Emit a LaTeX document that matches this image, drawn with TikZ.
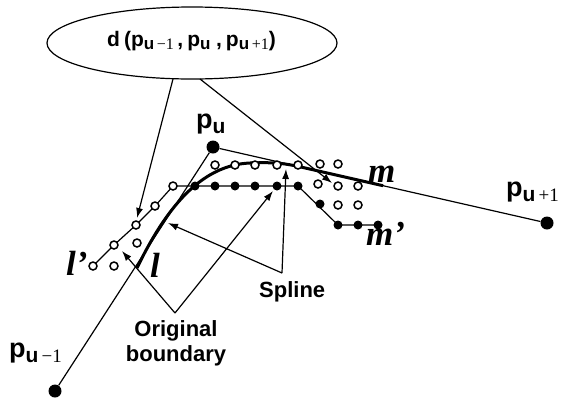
\documentclass[tikz,border=0pt]{standalone}
\usepackage{fontspec}
\setmainfont{Liberation Serif}
\newfontfamily\sansfam{Liberation Sans}
\usetikzlibrary{arrows.meta,shapes.geometric}
\newcommand\pbig[1]{p\raisebox{-5pt}{\fontsize{21}{21}\selectfont u{\rmfamily\mdseries\fontsize{19}{19}\selectfont\,#1}}}
\newcommand\psmall[1]{p\raisebox{-3pt}{\fontsize{17}{17}\selectfont u{\rmfamily\mdseries\fontsize{16}{16}\selectfont\,#1}}}
\begin{document}
\begin{tikzpicture}[x=1pt,y=-1pt,
  thinline/.style={line width=1.2pt},
  arr/.style={line width=1.2pt,-{Latex[length=10pt,width=7pt]}},
  fdot/.style={circle,fill=black,inner sep=0pt,minimum size=9pt},
  odot/.style={circle,draw=black,fill=white,line width=1.5pt,inner sep=0pt,minimum size=8pt},
  pdot/.style={circle,fill=black,inner sep=0pt,minimum size=13pt},
  plab/.style={inner sep=0pt,anchor=base west,font=\sansfam\bfseries\fontsize{27}{27}\selectfont},
  lab/.style={inner sep=0pt,font=\sansfam\bfseries\fontsize{22}{25}\selectfont},
  ital/.style={inner sep=0pt,anchor=base west,font=\bfseries\itshape\fontsize{35}{35}\selectfont},
]
\useasboundingbox (0,0) rectangle (565,400);

% ellipse with formula
\node[draw,ellipse,line width=1.2pt,minimum width=290pt,minimum height=72pt,inner sep=0pt] (dn) at (192,43) {};
\node[inner sep=0pt,anchor=base west,font=\sansfam\bfseries\fontsize{21}{21}\selectfont] (dt) at (107,46)
  {d\hspace{4pt}(\psmall{−1}\,,\hspace{4pt}\psmall{}\hspace{3pt},\hspace{4pt}\psmall{+1})};

% main points
\node[pdot] (pm) at (55,391) {};
\node[pdot] (p0) at (213,147) {};
\node[pdot] (pp) at (547,223) {};
\node[plab] (lpm) at (9,357) {\pbig{−1}};
\node[plab] (lp0) at (196,128) {\pbig{}};
\node[plab] (lpp) at (506,196) {\pbig{+1}};

\draw[thinline] (pm) -- (p0) -- (pp);

% original boundary (thick)
\coordinate (b0) at (137,268);
\coordinate (b1) at (250,163);
\coordinate (b2) at (300,166.8);
\coordinate (b3) at (383,185.7);
\draw[line width=3pt] (b0) .. controls (165,210) and (200,165) .. (b1)
  .. controls (275,162) and (285,163.5) .. (b2) -- (b3);

% chain of dots
\coordinate (c1) at (93,266);
\coordinate (c2) at (114,245);
\coordinate (c3) at (136,225);
\coordinate (c4) at (155,206);
\coordinate (c5) at (173,186);
\coordinate (s6) at (298,186);
\coordinate (s7) at (338,225);
\coordinate (s8) at (378,225);
\draw[thinline] (c1) -- (c2) -- (c3) -- (c4) -- (c5) -- (s6) -- (s7) -- (s8);

% filled dots (spline)
\foreach \x/\y [count=\i] in {195/186,215/186,235/186,255/186,277/186,298/186,320/204,338/225,358/225,378/225}
  \node[fdot] (f\i) at (\x,\y) {};

% open circles
\foreach \x/\y [count=\i] in {93/266,114/245,136/225,155/206,173/186,137/243,114/266,
  215/165,235/165,255/165,277/165,298/165,320/164,338/164,318/184,338/186,358/186,338/205,358/205}
  \node[odot] (o\i) at (\x,\y) {};

% italic labels
\node[ital] (ll) at (66,275) {l’};
\node[ital] (l) at (150,277) {l};
\node[ital] (m) at (368,182) {m};
\node[ital] (mm) at (366,245) {m’};

% labels with arrows
\node[lab,anchor=base west] (spl) at (259,297) {Spline};
\node[lab,align=center,anchor=north] (ob) at (176,320) {Original\\boundary};

\coordinate (e1) at (173,79);
\coordinate (e2) at (200,79);
\coordinate (t1) at (137,218);
\coordinate (t2) at (332,183);
\draw[arr] (e1) -- (t1);
\draw[arr] (e2) -- (t2);

\coordinate (sp) at (282,273);
\coordinate (t3) at (168,223);
\coordinate (t4) at (286,169);
\draw[arr] (sp) -- (t3);
\draw[arr] (sp) -- (t4);

\coordinate (obs) at (175,313);
\coordinate (t5) at (122,251);
\coordinate (t6) at (273,191);
\draw[arr] (obs) -- (t5);
\draw[arr] (obs) -- (t6);
\end{tikzpicture}
\end{document}
